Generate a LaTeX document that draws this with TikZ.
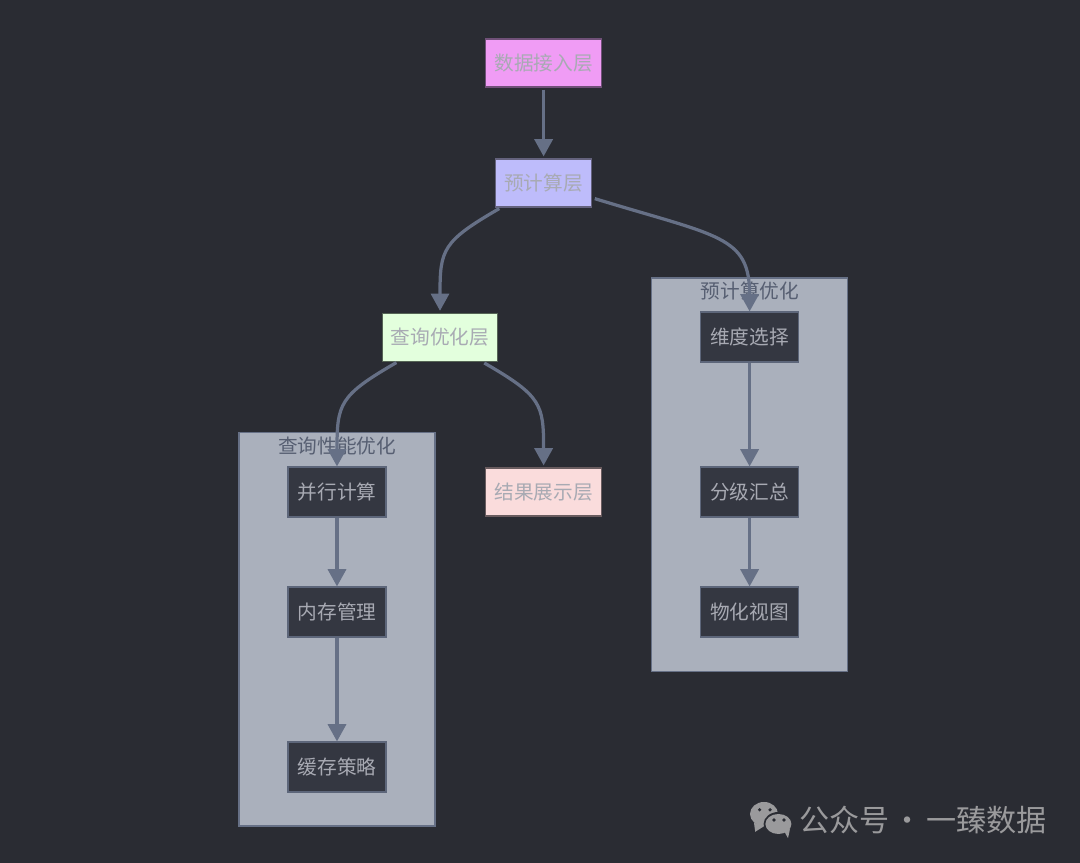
\documentclass[tikz,border=0pt]{standalone}
\usepackage{fontspec}
\setmainfont{Noto Sans CJK SC}
\usepackage{xcolor}
\usetikzlibrary{arrows.meta, positioning}
\definecolor{bgdark}{HTML}{2A2C33}
\definecolor{edgegray}{HTML}{667086}
\definecolor{clusterfill}{HTML}{AAB0BC}
\definecolor{innerfill}{HTML}{343741}
\definecolor{layertext}{HTML}{A8AAB3}
\definecolor{marktext}{HTML}{9A9A9C}
\definecolor{datafill}{HTML}{F09CF5}
\definecolor{dataline}{HTML}{705078}
\definecolor{prefill}{HTML}{BEBCFB}
\definecolor{preline}{HTML}{64627D}
\definecolor{queryfill}{HTML}{E3FFDD}
\definecolor{queryline}{HTML}{556455}
\definecolor{resultfill}{HTML}{FADCDC}
\definecolor{resultline}{HTML}{695C5F}
\tikzset{
  layer/.style={draw=#1line, fill=#1fill, line width=0.8pt, minimum height=1.2cm, inner xsep=0.215cm,
                inner ysep=0pt, text=layertext, font=\fontsize{14}{16}\selectfont},
  inner/.style={draw=edgegray!85!bgdark, line width=0.8pt, fill=innerfill, minimum width=2.45cm,
                minimum height=1.25cm, text=layertext, font=\fontsize{14}{16}\selectfont},
  cluster/.style={draw=edgegray, line width=0.8pt, fill=clusterfill, minimum width=4.9cm,
                  minimum height=9.83cm},
  clusterlab/.style={text=edgegray!85!black, font=\fontsize{14}{16}\selectfont},
  flow/.style={draw=edgegray, line width=2.3pt, shorten <=0.05cm, shorten >=0.05cm,
               -{Triangle[length=0.43cm,width=0.45cm]}},
  flowin/.style={flow, shorten <=0pt, shorten >=0pt}
}
\begin{document}
\begin{tikzpicture}
  \useasboundingbox (0,0) rectangle (27,21.575);
  \fill[bgdark] (0,0) rectangle (27,21.575);
  % subgraphs
  \node[cluster] (querybox) at (8.425,5.84) {};
  \node[cluster] (prebox) at (18.74,9.71) {};
  \node[clusterlab] (querylab) at (8.43,10.425) {查询性能优化};
  \node[clusterlab] (prelab) at (18.75,14.3) {预计算优化};
  % layers
  \node[layer=data] (data) at (13.59,20) {数据接入层};
  \node[layer=pre] (pre) at (13.59,17) {预计算层};
  \node[layer=query] (query) at (11,13.14) {查询优化层};
  \node[layer=result] (result) at (13.59,9.275) {结果展示层};
  % inner steps
  \foreach \name/\x/\y/\lab in {para/8.425/9.275/{并行计算}, mem/8.425/6.275/{内存管理},
                                cache/8.425/2.4/{缓存策略}, dim/18.74/13.15/{维度选择},
                                sum/18.74/9.275/{分级汇总}, view/18.74/6.275/{物化视图}}
    { \node[inner] (\name) at (\x,\y) {\lab}; }
  % edges
  \draw[flow] (data) -- (pre);
  \draw[flow] (pre.210) to[out=210,in=90,out looseness=1.43,in looseness=1.33] (query.north);
  \draw[flowin, shorten <=0.07cm] (pre.-17) to[out=-17,in=90,out looseness=1.75,in looseness=1] (dim.north);
  \draw[flowin, shorten <=0.03cm] (query.210) to[out=210,in=90,out looseness=1.43,in looseness=1.33] (para.north);
  \draw[flow] (query.-30) to[out=-30,in=90,out looseness=1.43,in looseness=1.33] (result.north);
  \draw[flowin] (para) -- (mem);
  \draw[flowin] (mem) -- (cache);
  \draw[flowin] (dim) -- (sum);
  \draw[flowin] (sum) -- (view);
  % watermark
  \fill[marktext] (19.1,1.225) ellipse (0.35 and 0.3);
  \fill[marktext] (18.85,1.0) -- (18.88,0.78) -- (19.15,0.95) -- cycle;
  \fill[bgdark] (19.46,0.975) ellipse (0.37 and 0.3);
  \fill[marktext] (19.46,0.975) ellipse (0.325 and 0.25);
  \fill[marktext] (19.6,0.8) -- (19.7,0.62) -- (19.75,0.85) -- cycle;
  \foreach \x/\y in {18.99/1.33, 19.25/1.33, 19.35/1.075, 19.6/1.075}
    { \fill[bgdark] (\x,\y) circle (0.045); }
  \node[text=marktext, font=\fontsize{21.4}{24}\selectfont, anchor=west, inner sep=0pt] (mark) at (19.97,1.075) {公众号 \hspace{-0.08cm}· \hspace{-0.08cm}一臻数据};
\end{tikzpicture}
\end{document}
